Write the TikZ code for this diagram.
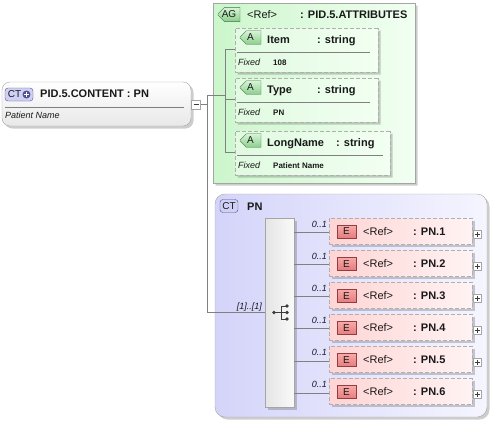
\documentclass[tikz,border=0pt]{standalone}
\usepackage{fontspec}
\setmainfont{Liberation Sans}
\usetikzlibrary{shapes.misc,shadows,calc}
\definecolor{bgray}{RGB}{165,165,165}
\definecolor{lgray}{RGB}{128,128,128}
\definecolor{dgray}{RGB}{60,60,60}
\definecolor{txt}{RGB}{25,25,25}
\definecolor{dashgray}{RGB}{175,175,175}
\definecolor{greenL}{RGB}{204,246,204}
\definecolor{greenR}{RGB}{242,255,242}
\definecolor{lavL}{RGB}{212,212,250}
\definecolor{lavR}{RGB}{245,245,255}
\definecolor{pinkL}{RGB}{255,212,212}
\definecolor{pinkR}{RGB}{255,243,243}
\definecolor{ebT}{RGB}{248,170,170}
\definecolor{ebB}{RGB}{228,125,125}
\definecolor{ebD}{RGB}{150,60,60}
\definecolor{abT}{RGB}{215,245,215}
\definecolor{abB}{RGB}{140,205,140}
\definecolor{abD}{RGB}{60,120,60}
\definecolor{ctF}{RGB}{208,208,246}
\definecolor{ctD}{RGB}{80,80,140}
\tikzset{
  shd/.style={drop shadow={shadow xshift=2.5pt,shadow yshift=-2.5pt,opacity=0.28,fill=black!70}},
  conn/.style={draw=lgray, line width=0.7pt},
  mainbox/.style={rectangle, rounded corners=8pt, draw=bgray, top color=white, bottom color={rgb,255:red,232;green,232;blue,232}, shd, inner sep=0},
  grpbox/.style={chamfered rectangle, chamfered rectangle corners={north west,south west}, chamfered rectangle xsep=6pt, draw=bgray, left color=greenL, right color=greenR, shd, inner sep=0},
  attrbox/.style={chamfered rectangle, chamfered rectangle corners={north west,south west}, chamfered rectangle xsep=5pt, draw=dashgray, dash pattern=on 4pt off 2pt, left color=greenL!60!white, right color=greenR, shd, inner sep=0},
  lavbox/.style={rectangle, rounded corners=10pt, draw=bgray, left color=lavL, right color=lavR, shd, inner sep=0},
  seqbox/.style={rectangle, draw=bgray, left color={rgb,255:red,228;green,228;blue,228}, right color={rgb,255:red,250;green,250;blue,250}, shd, inner sep=0},
  elbox/.style={rectangle, draw=dashgray, dash pattern=on 4pt off 2pt, left color=pinkL, right color=pinkR, shd, minimum width=143pt, minimum height=26pt, inner sep=0},
  ebadge/.style={rectangle, draw=ebD, top color=ebT, bottom color=ebB, minimum width=19pt, minimum height=13pt, inner sep=0, font=\fontsize{10}{12}\selectfont, text=txt},
  abadge/.style={chamfered rectangle, chamfered rectangle corners={north west,south west}, chamfered rectangle xsep=3pt, draw=abD, top color=abT, bottom color=abB, minimum width=21pt, minimum height=13pt, inner sep=0, font=\fontsize{10}{12}\selectfont, text=txt},
  ctbadge/.style={rectangle, rounded corners=3pt, draw=ctD, fill=ctF, minimum height=13pt, inner sep=0, font=\fontsize{10}{12}\selectfont, text=txt},
  smallbox/.style={rectangle, draw=bgray, fill=white, minimum width=8pt, minimum height=8pt, inner sep=0},
  tbold/.style={font=\fontsize{11}{13}\selectfont\bfseries, text=txt, inner sep=0, anchor=base west},
  treg/.style={font=\fontsize{11}{13}\selectfont, text=txt, inner sep=0, anchor=base west},
  tital/.style={font=\fontsize{9}{11}\selectfont\itshape, text=txt, inner sep=0, anchor=base west},
  tsmall/.style={font=\fontsize{8}{10}\selectfont\bfseries, text=txt, inner sep=0, anchor=base west},
  divider/.style={draw=lgray, line width=0.6pt}
}
\begin{document}
\begin{tikzpicture}[x=1pt,y=-1pt]
\useasboundingbox (0,0) rectangle (490,421);

% ---------- main complex type box ----------
\node[mainbox, minimum width=189pt, minimum height=44pt] (main) at (96.5,104) {};
\draw[divider] (5,107) -- (184,107);
\node[ctbadge, minimum width=28pt] (ctm) at (19,94.5) {};
\node[font=\fontsize{10}{12}\selectfont, text=txt, inner sep=0] (ctmtxt) at (14.5,94.5) {CT};
\node[circle, fill=ctD, minimum size=8pt, inner sep=0] (ctplus) at (26.5,94.5) {};
\draw[white, line width=1.2pt] ([xshift=-2.5pt]ctplus.center) -- ([xshift=2.5pt]ctplus.center)
  ([yshift=-2.5pt]ctplus.center) -- ([yshift=2.5pt]ctplus.center);
\node[tbold] (maintitle) at (40,97) {PID.5.CONTENT : PN};
\node[tital] (maindoc) at (5,118) {Patient Name};
\node[smallbox, minimum width=9pt, minimum height=9pt] (mn) at (196,104.5) {};
\draw[dgray] ([xshift=-2.5pt]mn.center) -- ([xshift=2.5pt]mn.center);

% ---------- attribute group ----------
\node[grpbox, minimum width=202pt, minimum height=180pt] (grp) at (314,93) {};
\node[abadge, minimum width=22pt] (agb) at (229,14.5) {AG};
\node[treg] (agref) at (247,18) {<Ref>};
\node[tbold] (agname) at (300,18) {: PID.5.ATTRIBUTES};

% Item
\node[attrbox, minimum width=143pt, minimum height=44pt] (item) at (306.5,50) {};
\node[abadge] (itemb) at (250.5,37.5) {A};
\node[tbold] (itemn) at (267,43) {Item};
\node[tbold] (itemt) at (317,43) {: string};
\draw[divider] (237,52) -- (370,52);
\node[tital] (itemf) at (238,65) {Fixed};
\node[tsmall] (itemv) at (273,65) {108};

% Type
\node[attrbox, minimum width=143pt, minimum height=44pt] (type) at (306.5,100) {};
\node[abadge] (typeb) at (250.5,87.5) {A};
\node[tbold] (typen) at (267,93) {Type};
\node[tbold] (typet) at (317,93) {: string};
\draw[divider] (237,102) -- (370,102);
\node[tital] (typef) at (238,115) {Fixed};
\node[tsmall] (typev) at (273,115) {PN};

% LongName
\node[attrbox, minimum width=155pt, minimum height=44pt] (long) at (312.5,153) {};
\node[abadge] (longb) at (250.5,140.5) {A};
\node[tbold] (longn) at (267,146) {LongName};
\node[tbold] (longt) at (336,146) {: string};
\draw[divider] (237,155) -- (383,155);
\node[tital] (longf) at (238,168) {Fixed};
\node[tsmall] (longv) at (273,168) {Patient Name};

% ---------- complex type PN ----------
\node[lavbox, minimum width=272pt, minimum height=223pt] (lav) at (351,305.5) {};
\node[ctbadge, minimum width=18pt] (ctpn) at (229,206) {CT};
\node[tbold] (pntitle) at (247,210) {PN};
\node[seqbox, minimum width=29pt, minimum height=189pt] (seq) at (279.5,312.5) {};
\node[tital, anchor=base east] (seqmult) at (262,309) {[1]..[1]};
% sequence icon
\coordinate (sq) at (seq.center);
\draw[dgray, line width=0.8pt] ([xshift=-5.5pt]sq) -- ([xshift=1.5pt]sq)
  ([xshift=1.5pt,yshift=6.5pt]sq) -- ([xshift=1.5pt,yshift=-6.5pt]sq)
  ([xshift=1.5pt,yshift=6.5pt]sq) -- ([xshift=7.5pt,yshift=6.5pt]sq)
  ([xshift=1.5pt]sq) -- ([xshift=7.5pt]sq)
  ([xshift=1.5pt,yshift=-6.5pt]sq) -- ([xshift=7.5pt,yshift=-6.5pt]sq);
\fill[dgray] ([xshift=-5.5pt]sq) circle (1.8pt)
  ([xshift=7.5pt,yshift=6.5pt]sq) circle (1.8pt)
  ([xshift=7.5pt]sq) circle (1.8pt)
  ([xshift=7.5pt,yshift=-6.5pt]sq) circle (1.8pt);

\foreach \i/\yc in {1/231,2/263.1,3/295.2,4/327.3,5/359.4,6/391.5}{
  \node[elbox] (e\i) at (400.5,\yc) {};
  \node[ebadge] (eb\i) at (346.5,\yc+0.5) {E};
  \node[treg] (er\i) at (363,\yc+4) {<Ref>};
  \node[tbold] (en\i) at (413,\yc+4) {: PN.\i};
  \node[smallbox] (ep\i) at (477.5,\yc+3) {};
  \draw[dgray, line width=0.5pt] ([xshift=-2.5pt]ep\i.center) -- ([xshift=2.5pt]ep\i.center)
    ([yshift=-2.5pt]ep\i.center) -- ([yshift=2.5pt]ep\i.center);
  \coordinate (ec\i) at ([yshift=-1.5pt]e\i.west);
  \draw[conn] (seq.east |- ec\i) -- (ec\i);
  \node[tital, anchor=base east] (m\i) at (327,\yc-4) {0..1};
}

% ---------- connectors ----------
\coordinate (v1) at (207,95);
\coordinate (v2) at (225,95);
\coordinate (ai) at ([yshift=-21.5pt]item.north west);
\coordinate (at) at ([yshift=-21.5pt]type.north west);
\coordinate (al) at ([yshift=-21.5pt]long.north west);
\draw[conn] (mn.east) -- (mn.east -| v1);
\draw[conn] (v1) -- (v2);
\draw[conn] (v1) -- (v1 |- seq.west) -- (seq.west);
\draw[conn] (v2 |- ai) -- (v2 |- al);
\draw[conn] (v2 |- ai) -- (item.west |- ai);
\draw[conn] (v2 |- at) -- (type.west |- at);
\draw[conn] (v2 |- al) -- (long.west |- al);
\end{tikzpicture}
\end{document}
